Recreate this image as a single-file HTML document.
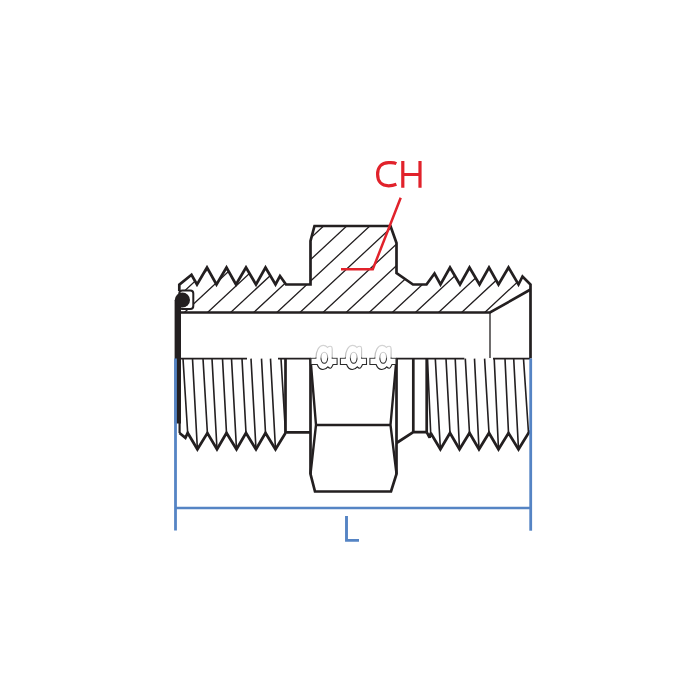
<!DOCTYPE html><html><head><meta charset="utf-8"><style>html,body{margin:0;padding:0;background:#fff;}svg{display:block;}</style></head><body>
<svg width="700" height="700" viewBox="0 0 700 700">
<rect width="700" height="700" fill="#fff"/>
<defs><clipPath id="hc"><polygon points="179.3,291 179.3,284.6 191.5,274.8 197,284.5 207,267.5 216.5,284.5 226.5,267.5 236,284.5 246,267.5 256,284.5 265.5,267.5 275.5,284.5 280,276 286,284.5 310.5,284.5 310.5,241 314.5,226 390.5,226 396.5,243 396.5,273 413,284.5 426.5,284.5 434.5,273.5 440.5,284.5 450,267.5 460,284.5 469.5,267.5 479.5,284.5 489,267.5 498.5,284.5 508.5,267.5 518.5,284.5 522.5,276.5 530.5,284.5 530.5,289.5 490,312.5 179.3,312.5"/></clipPath></defs>
<path clip-path="url(#hc)" d="M138.2,312.5L256.5,202.5M161.3,312.5L279.6,202.5M184.4,312.5L302.7,202.5M207.5,312.5L325.8,202.5M230.6,312.5L348.9,202.5M253.7,312.5L372.0,202.5M276.8,312.5L395.1,202.5M299.9,312.5L418.2,202.5M323.0,312.5L441.3,202.5M346.1,312.5L464.4,202.5M369.2,312.5L487.5,202.5M392.3,312.5L510.6,202.5M415.4,312.5L533.7,202.5M438.5,312.5L556.8,202.5M461.6,312.5L579.9,202.5M484.7,312.5L603.0,202.5M507.8,312.5L626.1,202.5M530.9,312.5L649.2,202.5M554.0,312.5L672.3,202.5M577.1,312.5L695.4,202.5" stroke="#231f20" stroke-width="1.3" fill="none"/>
<rect x="179.3" y="290.6" width="14" height="18.4" rx="3" fill="#fff" stroke="#231f20" stroke-width="2"/>
<polyline points="179.3,291 179.3,284.6 191.5,274.8 197,284.5 207,267.5 216.5,284.5 226.5,267.5 236,284.5 246,267.5 256,284.5 265.5,267.5 275.5,284.5 280,276 286,284.5 310.5,284.5 310.5,241 314.5,226 390.5,226 396.5,243 396.5,273 413,284.5 426.5,284.5 434.5,273.5 440.5,284.5 450,267.5 460,284.5 469.5,267.5 479.5,284.5 489,267.5 498.5,284.5 508.5,267.5 518.5,284.5 522.5,276.5 530.5,284.5 530.5,358.5" fill="none" stroke="#231f20" stroke-width="2.7" stroke-linejoin="miter" stroke-miterlimit="4"/>
<polyline points="181,312.5 490,312.5 530.5,289.5" fill="none" stroke="#231f20" stroke-width="2.6"/>
<line x1="490" y1="312.5" x2="490" y2="358" stroke="#231f20" stroke-width="1.3"/>
<rect x="174.6" y="300" width="6.4" height="123.5" fill="#231f20"/>
<circle cx="182.4" cy="300" r="7.6" fill="#231f20"/>
<line x1="179.6" y1="420" x2="179.6" y2="433" stroke="#231f20" stroke-width="2.2"/>
<line x1="181" y1="358.6" x2="247" y2="358.6" stroke="#231f20" stroke-width="1.8"/>
<line x1="278" y1="358.6" x2="311" y2="358.6" stroke="#231f20" stroke-width="1.8"/>
<line x1="396" y1="358.6" x2="464.4" y2="358.6" stroke="#231f20" stroke-width="1.8"/>
<line x1="493" y1="358.6" x2="530" y2="358.6" stroke="#231f20" stroke-width="1.8"/>
<polyline points="179.5,433 185.4,437.9 187.7,433 197.4,449.3 207.4,433 217,449.3 226.5,433 236.5,449.3 246,433 256,449.3 265.5,433 275.5,449.3 285.5,433" fill="none" stroke="#231f20" stroke-width="2.7" stroke-linejoin="miter" stroke-miterlimit="2.3"/>
<path d="M183,358.6L187.7,433M192.5,358.6L197.4,449.3M203,358.6L207.4,433M212,358.6L217,449.3M222.5,358.6L226.5,433M231.5,358.6L236.5,449.3M242,358.6L246,433M251,358.6L256,449.3M261.5,358.6L265.5,433M270.5,358.6L275.5,449.3M281,358.6L285.5,433" stroke="#231f20" stroke-width="1.6" fill="none"/>
<polyline points="285.5,358.5 285.5,432.3 310.5,432.3" fill="none" stroke="#231f20" stroke-width="2.7"/>
<polyline points="310.5,358.5 310.5,474 315,491.5 391,491.5 396.5,474 396.5,358.5" fill="none" stroke="#231f20" stroke-width="2.7" stroke-linejoin="miter" stroke-miterlimit="2.3"/>
<polyline points="310.5,358.5 316,425 310.5,474" fill="none" stroke="#231f20" stroke-width="2.4"/>
<polyline points="396.5,358.5 390.5,425 396.5,474" fill="none" stroke="#231f20" stroke-width="2.4"/>
<line x1="316" y1="425" x2="390.5" y2="425" stroke="#231f20" stroke-width="2.4"/>
<polyline points="396.5,443 413.3,432.2 426.7,432.2" fill="none" stroke="#231f20" stroke-width="2.7"/>
<line x1="413.3" y1="358.5" x2="413.3" y2="432.2" stroke="#231f20" stroke-width="2.7"/>
<line x1="426.7" y1="358.5" x2="426.7" y2="432.2" stroke="#231f20" stroke-width="2.7"/>
<polyline points="426.7,432.2 429.6,437.6 430.7,433 440.4,449.3 450,433 459.5,449.3 469.5,433 479,449.3 489,433 498.5,449.3 508.5,433 518.5,449.3 528.5,433 530.5,431" fill="none" stroke="#231f20" stroke-width="2.7" stroke-linejoin="miter" stroke-miterlimit="2.3"/>
<path d="M427.5,358.6L430.7,433M435.3,358.6L440.4,449.3M446,358.6L450,433M455.2,358.6L459.5,449.3M465.3,358.6L469.5,433M474.5,358.6L479,449.3M484.6,358.6L489,433M494.2,358.6L498.5,449.3M505,358.6L508.5,433M513.7,358.6L518.5,449.3M523.5,358.6L528.5,433" stroke="#231f20" stroke-width="1.6" fill="none"/>
<defs><linearGradient id="ga" x1="0" y1="0" x2="0" y2="1"><stop offset="0" stop-color="#d4d4d4"/><stop offset="0.47" stop-color="#b8b8b8"/><stop offset="0.53" stop-color="#3a3a3a"/><stop offset="1" stop-color="#1e1e1e"/></linearGradient><linearGradient id="gh" x1="0" y1="0" x2="0" y2="1"><stop offset="0" stop-color="#cfcfcf"/><stop offset="0.45" stop-color="#9a9a9a"/><stop offset="0.6" stop-color="#333"/><stop offset="1" stop-color="#222"/></linearGradient></defs><g transform="translate(315.9,0)"><path d="M-4.9,358.3 L0,358.3 C0,351 3,345.4 7.5,345.4 C9.5,345.4 10.8,346.5 11.6,347.4 C12.5,346.5 13.5,346.2 14.5,346.2 C15.8,346.2 16.3,347.5 16.3,349 L16.3,358.3 L21.2,358.3 L21.2,364.5 L17.2,364.5 C16.3,366.5 15.5,368.2 14.5,368.2 C13.3,368.2 12.5,367.5 12,366.9 C10.5,368.8 9,369.5 7,369.5 C4,369.5 2,366.5 1.3,364.5 L-4.9,364.5 Z" fill="#fff" stroke="url(#ga)" stroke-width="1.1"/><ellipse cx="8.4" cy="357.8" rx="3.35" ry="5.5" fill="#fff" stroke="url(#gh)" stroke-width="1.1"/></g><g transform="translate(345.3,0)"><path d="M-4.9,358.3 L0,358.3 C0,351 3,345.4 7.5,345.4 C9.5,345.4 10.8,346.5 11.6,347.4 C12.5,346.5 13.5,346.2 14.5,346.2 C15.8,346.2 16.3,347.5 16.3,349 L16.3,358.3 L21.2,358.3 L21.2,364.5 L17.2,364.5 C16.3,366.5 15.5,368.2 14.5,368.2 C13.3,368.2 12.5,367.5 12,366.9 C10.5,368.8 9,369.5 7,369.5 C4,369.5 2,366.5 1.3,364.5 L-4.9,364.5 Z" fill="#fff" stroke="url(#ga)" stroke-width="1.1"/><ellipse cx="8.4" cy="357.8" rx="3.35" ry="5.5" fill="#fff" stroke="url(#gh)" stroke-width="1.1"/></g><g transform="translate(374.8,0)"><path d="M-4.9,358.3 L0,358.3 C0,351 3,345.4 7.5,345.4 C9.5,345.4 10.8,346.5 11.6,347.4 C12.5,346.5 13.5,346.2 14.5,346.2 C15.8,346.2 16.3,347.5 16.3,349 L16.3,358.3 L21.2,358.3 L21.2,364.5 L17.2,364.5 C16.3,366.5 15.5,368.2 14.5,368.2 C13.3,368.2 12.5,367.5 12,366.9 C10.5,368.8 9,369.5 7,369.5 C4,369.5 2,366.5 1.3,364.5 L-4.9,364.5 Z" fill="#fff" stroke="url(#ga)" stroke-width="1.1"/><ellipse cx="8.4" cy="357.8" rx="3.35" ry="5.5" fill="#fff" stroke="url(#gh)" stroke-width="1.1"/></g>
<line x1="175.5" y1="358.5" x2="175.5" y2="530.5" stroke="#5584c4" stroke-width="2.8"/>
<line x1="530.7" y1="358.5" x2="530.7" y2="530.7" stroke="#5584c4" stroke-width="2.8"/>
<line x1="175.5" y1="508.1" x2="530.7" y2="508.1" stroke="#5584c4" stroke-width="2.5"/>
<path d="M346.5,516 L346.5,540.4 L359,540.4" fill="none" stroke="#5584c4" stroke-width="2.9"/>
<polyline points="400.7,197.8 372.8,269.2 341,269.2" fill="none" stroke="#e1222b" stroke-width="2.5"/>
<path d="M396.4,163.6 C393.6,162.3 391.2,162.7 388.6,162.7 C381,162.7 377.6,168 377.6,174.3 C377.6,181.5 381.5,185.8 388.6,185.8 C391.3,185.8 393.8,185.3 396.4,184.3" fill="none" stroke="#e1222b" stroke-width="3.2"/>
<path d="M402.8,161.1 L402.8,187.7 M420,161.1 L420,187.7 M402.8,174.5 L420,174.5" fill="none" stroke="#e1222b" stroke-width="3.2"/>
</svg></body></html>
